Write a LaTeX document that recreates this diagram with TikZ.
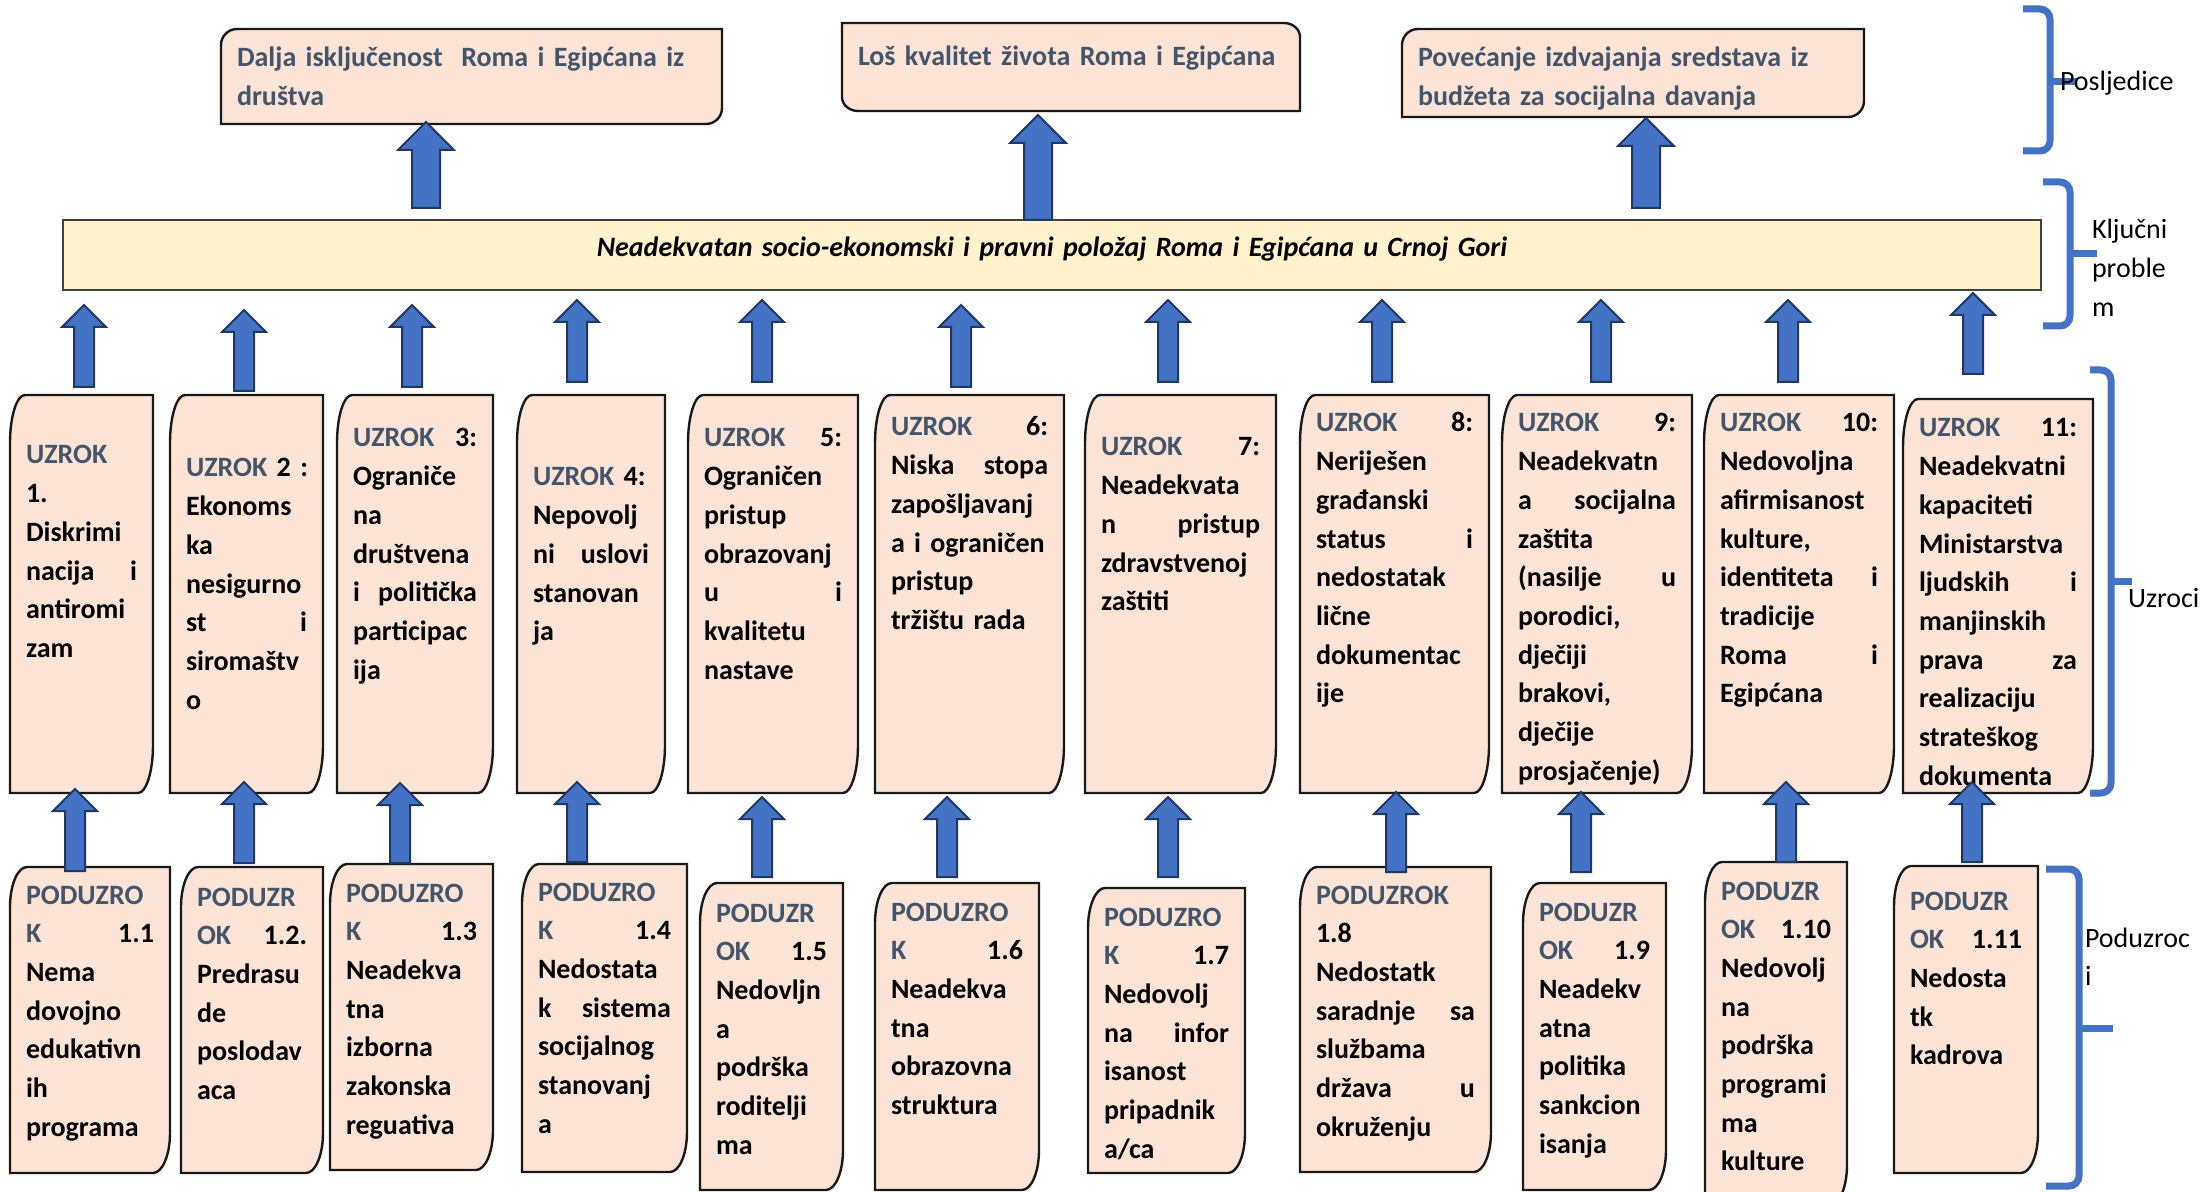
\documentclass[tikz,border=0pt]{standalone}
\usepackage{fontspec}
\setmainfont{Carlito}
\usetikzlibrary{calc}

\definecolor{peach}{HTML}{FBE4D5}
\definecolor{cream}{HTML}{FFF2CC}
\definecolor{slate}{HTML}{44546A}
\definecolor{accent}{HTML}{4472C4}
\definecolor{navy}{HTML}{1F3864}

\pgfdeclarelayer{background}
\pgfsetlayers{background,main}

\newcommand{\hd}[1]{\textcolor{slate}{#1}}
\newcommand{\boxfont}{\fontsize{14pt}{19.35pt}\selectfont}

% box with its text: style, name, x1, y1, x2, y2 (px), first baseline below top (px), text
\newcommand{\tbox}[8]{%
  \pgfmathsetlengthmacro\boxw{(#5-#3)*0.5-16}%
  \pgfmathsetlengthmacro\boxh{#7*0.5}%
  \pgfmathsetlengthmacro\boxd{(#6-#4-#7)*0.5}%
  \node[#1, text width=\boxw, text height=\boxh, text depth=\boxd] (#2) at (#3,#4) {#8};}

% outline, rounded top left and bottom right
\newcommand{\diagTLBR}[3]{%
  \path[boxshape] ([xshift=#2]#1.north west) -- (#1.north east) -- ([yshift=#3]#1.south east)
    arc[start angle=0, end angle=-90, x radius=#2, y radius=#3] -- (#1.south west)
    -- ([yshift=-#3]#1.north west) arc[start angle=180, end angle=90, x radius=#2, y radius=#3] -- cycle;}
% outline, rounded top right and bottom left
\newcommand{\diagTRBL}[3]{%
  \path[boxshape] (#1.north west) -- ([xshift=-#2]#1.north east)
    arc[start angle=90, end angle=0, x radius=#2, y radius=#3] -- (#1.south east)
    -- ([xshift=#2]#1.south west) arc[start angle=270, end angle=180, x radius=#2, y radius=#3] -- cycle;}

% block arrow: size, x (px), from node, tail gap (px), to node, tip gap (px)
\newcommand{\blkarrow}[6][smallarr]{%
  \path[blockarrow, #1] let \p1=(#3.north), \p2=(#5.south), \p3=(#2,0),
    \n1={\y1+#4*0.5pt}, \n2={\y2-(#6)*0.5pt}, \n3={\y2-(#6)*0.5pt-\alen} in
    (\x3-\ashaft,\n1) -- (\x3-\ashaft,\n3) -- (\x3-\ahead,\n3) -- (\x3,\n2)
    -- (\x3+\ahead,\n3) -- (\x3+\ashaft,\n3) -- (\x3+\ashaft,\n1) -- cycle;}

\tikzset{
  txtbox/.style={anchor=north west, inner xsep=8pt, inner ysep=0pt, outer sep=0pt,
                 align=left, font=\boxfont\bfseries},
  topbox/.style={txtbox, text=slate},
  mainbox/.style={txtbox, align=center, draw=black!75, line width=1pt, fill=cream,
                  font=\boxfont\bfseries\itshape},
  boxshape/.style={draw=black!90, line width=1.2pt, fill=peach},
  blockarrow/.style={draw=navy, line width=1pt, fill=accent},
  bigarr/.style={/utils/exec={\def\ashaft{7pt}\def\ahead{14pt}\def\alen{14pt}}},
  smallarr/.style={/utils/exec={\def\ashaft{5pt}\def\ahead{11pt}\def\alen{11pt}}},
  bracket/.style={draw=accent, line width=3.5pt, rounded corners=5pt},
  lbl/.style={anchor=base west, inner sep=0pt, outer sep=0pt, text width=80pt,
              align=left, font=\boxfont}
}

\begin{document}
\begin{tikzpicture}[x=0.5pt, y=-0.5pt]
\useasboundingbox (0,0) rectangle (2201,1192);

% posljedice
\tbox{topbox}{k1}{221}{29}{722}{124}{38}{Dalja isključenost\ \ Roma i Egipćana iz\\društva}
\tbox{topbox}{k2}{842}{23}{1300}{111}{43}{Loš kvalitet života Roma i Egipćana}
\tbox{topbox}{k3}{1402}{29}{1864}{117}{38}{Povećanje izdvajanja sredstava iz\\budžeta za socijalna davanja}

% kljucni problem
\tbox{mainbox}{main}{63}{220}{2041}{290}{37}{Neadekvatan socio-ekonomski i pravni položaj Roma i Egipćana u Crnoj Gori}

% uzroci
\tbox{txtbox}{c1}{10}{395}{153}{793}{69}{\hd{UZROK}\\1.\\Diskrimi\\nacija\hfill i\\antiromi\\zam}
\tbox{txtbox}{c2}{170}{395}{323}{793}{82}{\hd{UZROK}~2~:\\Ekonoms\\ka\\nesigurno\\st\hfill i\\siromaštv\\o}
\tbox{txtbox}{c3}{337}{395}{493}{793}{52}{\hd{UZROK}\hfill 3:\\Ograniče\\na\\društvena\\i\hfill politička\\participac\\ija}
\tbox{txtbox}{c4}{517}{395}{665}{793}{91}{\hd{UZROK} 4:\\Nepovolj\\ni\hfill uslovi\\stanovan\\ja}
\tbox{txtbox}{c5}{688}{395}{858}{793}{52}{\hd{UZROK}\hfill 5:\\Ograničen\\pristup\\obrazovanj\\u\hfill i\\kvalitetu\\nastave}
\tbox{txtbox}{c6}{875}{395}{1064}{793}{41}{\hd{UZROK}\hfill 6:\\Niska\hfill stopa\\zapošljavanj\\a i ograničen\\pristup\\tržištu rada}
\tbox{txtbox}{c7}{1085}{395}{1276}{793}{61}{\hd{UZROK}\hfill 7:\\Neadekvata\\n\hfill pristup\\zdravstvenoj\\zaštiti}
\tbox{txtbox}{c8}{1300}{395}{1489}{793}{37}{\hd{UZROK}\hfill 8:\\Neriješen\\građanski\\status\hfill i\\nedostatak\\lične\\dokumentac\\ije}
\tbox{txtbox}{c9}{1502}{395}{1692}{793}{37}{\hd{UZROK}\hfill 9:\\Neadekvatn\\a\hfill socijalna\\zaštita\\(nasilje\hfill u\\porodici,\\dječiji\\brakovi,\\dječije\\prosjačenje)}
\tbox{txtbox}{c10}{1704}{395}{1894}{793}{37}{\hd{UZROK}\hfill 10:\\Nedovoljna\\afirmisanost\\kulture,\\identiteta\hfill i\\tradicije\\Roma\hfill i\\Egipćana}
\tbox{txtbox}{c11}{1903}{399}{2093}{793}{38}{\hd{UZROK}\hfill 11:\\Neadekvatni\\kapaciteti\\Ministarstva\\ljudskih\hfill i\\manjinskih\\prava\hfill za\\realizaciju\\strateškog\\dokumenta}

% poduzroci
\tbox{txtbox}{s1}{10}{867}{170}{1173}{37}{\hd{PODUZRO}\\\hd{K}\hfill 1.1\\Nema\\dovojno\\edukativn\\ih\\programa}
\tbox{txtbox}{s2}{181}{867}{323}{1173}{39}{\hd{PODUZR}\\\hd{OK}\hfill 1.2.\\Predrasu\\de\\poslodav\\aca}
\tbox{txtbox}{s3}{330}{864}{493}{1170}{38}{\hd{PODUZRO}\\\hd{K}\hfill 1.3\\Neadekva\\tna\\izborna\\zakonska\\reguativa}
\tbox{txtbox}{s4}{522}{864}{687}{1172}{37}{\hd{PODUZRO}\\\hd{K}\hfill 1.4\\Nedostata\\k\hfill sistema\\socijalnog\\stanovanj\\a}
\tbox{txtbox}{s5}{700}{883}{843}{1190}{39}{\hd{PODUZR}\\\hd{OK}\hfill 1.5\\Nedovljn\\a\\podrška\\roditelji\\ma}
\tbox{txtbox}{s6}{875}{883}{1039}{1190}{38}{\hd{PODUZRO}\\\hd{K}\hfill 1.6\\Neadekva\\tna\\obrazovna\\struktura}
\tbox{txtbox}{s7}{1088}{888}{1245}{1173}{38}{\hd{PODUZRO}\\\hd{K}\hfill 1.7\\Nedovolj\\na\hfill infor\\isanost\\pripadnik\\a/ca}
\tbox{txtbox}{s8}{1300}{867}{1491}{1172}{37}{\hd{PODUZROK}\\1.8\\Nedostatk\\saradnje\hfill sa\\službama\\država\hfill u\\okruženju}
\tbox{txtbox}{s9}{1523}{883}{1666}{1190}{38}{\hd{PODUZR}\\\hd{OK}\hfill 1.9\\Neadekv\\atna\\politika\\sankcion\\isanja}
\tbox{txtbox}{s10}{1705}{862}{1847}{1205}{38}{\hd{PODUZR}\\\hd{OK}\hfill 1.10\\Nedovolj\\na\\podrška\\programi\\ma\\kulture}
\tbox{txtbox}{s11}{1894}{866}{2038}{1173}{44}{\hd{PODUZR}\\\hd{OK}\hfill 1.11\\Nedosta\\tk\\kadrova}

\begin{pgfonlayer}{background}
  \foreach \i in {1,...,11} {\diagTLBR{c\i}{7.5pt}{24pt} \diagTLBR{s\i}{8.5pt}{20pt}}
  \diagTLBR{k1}{8pt}{8pt}
  \diagTRBL{k2}{8pt}{7pt}
  \diagTLBR{k3}{8pt}{8pt}
\end{pgfonlayer}

% strelice
\blkarrow[bigarr]{426}{main}{12}{k1}{-2}
\blkarrow[bigarr]{1038}{main}{0}{k2}{4}
\blkarrow[bigarr]{1646}{main}{12}{k3}{1}

\blkarrow{84}{c1}{8}{main}{15}
\blkarrow{244}{c2}{4}{main}{20}
\blkarrow{412}{c3}{8}{main}{15}
\blkarrow{577}{c4}{13}{main}{10}
\blkarrow{762}{c5}{13}{main}{10}
\blkarrow{961}{c6}{8}{main}{15}
\blkarrow{1168}{c7}{13}{main}{10}
\blkarrow{1382}{c8}{13}{main}{10}
\blkarrow{1601}{c9}{13}{main}{10}
\blkarrow{1788}{c10}{13}{main}{10}
\blkarrow{1973}{c11}{25}{main}{3}

\blkarrow{75}{s1}{-4}{c1}{-4}
\blkarrow{244}{s2}{4}{c2}{-11}
\blkarrow{400}{s3}{1}{c3}{-10}
\blkarrow{577}{s4}{2}{c4}{-11}
\blkarrow{762}{s5}{6}{c5}{4}
\blkarrow{947}{s6}{6}{c6}{4}
\blkarrow{1168}{s7}{11}{c7}{4}
\blkarrow{1396}{s8}{-5}{c8}{-1}
\blkarrow{1581}{s9}{11}{c9}{-1}
\blkarrow{1786}{s10}{0}{c10}{-11}
\blkarrow{1972}{s11}{4}{c11}{-11}

% zagrade
\draw[bracket] (2023,9) -- (2050,9) -- (2050,151) -- (2023,151);
\draw[bracket] (2050,82) -- (2077,82);
\draw[bracket] (2043,182) -- (2070,182) -- (2070,326) -- (2043,326);
\draw[bracket] (2070,254) -- (2097,254);
\draw[bracket] (2090,370) -- (2111,370) -- (2111,793) -- (2090,793);
\draw[bracket] (2111,581) -- (2132,581);
\draw[bracket] (2046,869) -- (2079,869) -- (2079,1186) -- (2046,1186);
\draw[bracket] (2079,1028) -- (2113,1028);

\node[lbl] (lposl) at (2060,91) {Posljedice};
\node[lbl] (lklju) at (2092,239) {Ključni\\proble\\m};
\node[lbl] (luzr) at (2128,607) {Uzroci};
\node[lbl] (lpod) at (2085,947) {Poduzroc\\i};
\end{tikzpicture}
\end{document}
